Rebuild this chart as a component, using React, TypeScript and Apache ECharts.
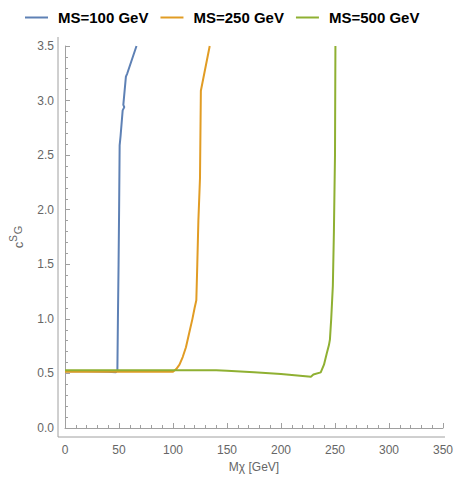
import React, { useEffect, useRef } from "react";
import * as echarts from "echarts";

const seriesNames = ["MS=100 GeV", "MS=250 GeV", "MS=500 GeV"];
const colors = ["#5E81B5", "#E19C24", "#8FB032"];

const ms100: [number, number][] = [
  [0, 0.52], [20, 0.52], [40, 0.515], [47, 0.51], [48.5, 0.53], [49, 1.0],
  [49.6, 1.5], [50.1, 2.0], [50.6, 2.59], [51.5, 2.68], [53.4, 2.91],
  [54.9, 2.94], [54.0, 2.96], [56.4, 3.22], [57.7, 3.25], [66.2, 3.5],
];
const ms250: [number, number][] = [
  [0, 0.515], [50, 0.515], [100, 0.515], [103, 0.54], [106, 0.58],
  [109, 0.65], [112, 0.74], [115, 0.87], [118, 1.0], [120, 1.1],
  [121.6, 1.17], [122.5, 1.5], [123.5, 1.9], [125, 2.29], [125.8, 3.09],
  [134, 3.5],
];
const ms500: [number, number][] = [
  [0, 0.53], [50, 0.53], [100, 0.53], [140, 0.53], [150, 0.525],
  [175, 0.51], [200, 0.495], [227.7, 0.47], [230, 0.49], [236.8, 0.51],
  [239.8, 0.58], [242.3, 0.68], [244.4, 0.76], [245.3, 0.81], [246.5, 1.0],
  [248, 1.3], [249, 1.8], [250, 2.5], [250.4, 3.5],
];

const xTicks = { min: 0, max: 350, interval: 50 };
const yTicks = { min: 0, max: 3.5, interval: 0.5 };

export default function App() {
  const ref = useRef<HTMLDivElement>(null);
  useEffect(() => {
    document.body.style.margin = "0";
    if (!ref.current) return;
    const chart = echarts.init(ref.current, undefined, { renderer: "svg" });
    const axisColor = "#a0a0a0";
    const labelColor = "#666";
    const font = "'Liberation Sans', Arial, sans-serif";
    const data = [ms100, ms250, ms500];
    chart.setOption({
      animation: false,
      textStyle: { fontFamily: font },
      legend: {
        left: 20,
        top: 5,
        width: 440,
        itemWidth: 23,
        itemHeight: 14,
        itemGap: 12,
        icon: "path://M0,6 L23,6 L23,8 L0,8 Z",
        data: seriesNames,
        textStyle: {
          fontSize: 15,
          fontWeight: "bold",
          color: "#000",
          fontFamily: font,
          padding: [0, 0, 0, 5],
        },
      },
      grid: { left: 61, right: 11, top: 46, bottom: 53 },
      xAxis: {
        type: "value",
        min: xTicks.min,
        max: xTicks.max,
        interval: xTicks.interval,
        offset: 9,
        name: "Mχ [GeV]",
        nameLocation: "middle",
        nameGap: 24,
        nameTextStyle: { color: labelColor, fontSize: 12, fontFamily: font },
        axisLine: { show: true, lineStyle: { color: axisColor } },
        axisTick: { show: true, inside: true, length: 5, lineStyle: { color: axisColor } },
        minorTick: { show: true, splitNumber: 5, length: 3, lineStyle: { color: axisColor } },
        axisLabel: { color: labelColor, fontSize: 12, margin: 7, fontFamily: font },
        splitLine: { show: false },
      },
      yAxis: {
        type: "value",
        min: yTicks.min,
        max: yTicks.max,
        interval: yTicks.interval,
        offset: 7,
        name: "{c|c}{s|S}{g|G}",
        nameLocation: "middle",
        nameRotate: 90,
        nameGap: 30,
        nameTextStyle: {
          color: labelColor,
          fontFamily: font,
          rich: {
            c: { fontSize: 13, color: labelColor, lineHeight: 20, verticalAlign: "middle" },
            s: { fontSize: 10, color: labelColor, lineHeight: 20, verticalAlign: "top" },
            g: { fontSize: 11, color: labelColor, lineHeight: 20, verticalAlign: "middle", padding: [0, 0, 0, 1] },
          },
        },
        axisLine: { show: true, lineStyle: { color: axisColor } },
        axisTick: { show: true, inside: true, length: 5, lineStyle: { color: axisColor } },
        minorTick: { show: true, splitNumber: 5, length: 3, lineStyle: { color: axisColor } },
        axisLabel: {
          color: labelColor,
          fontSize: 12,
          margin: 4,
          fontFamily: font,
          formatter: (v: number) => v.toFixed(1),
        },
        splitLine: { show: false },
      },
      series: seriesNames.map((name, i) => ({
        name,
        type: "line",
        data: data[i],
        symbol: "none",
        smooth: false,
        lineStyle: { color: colors[i], width: 2 },
        itemStyle: { color: colors[i] },
      })),
    });
    // extend the axis lines slightly past the data range as in the reference
    const p0 = chart.convertToPixel({ xAxisIndex: 0, yAxisIndex: 0 }, [xTicks.min, yTicks.min]) as number[];
    const p1 = chart.convertToPixel({ xAxisIndex: 0, yAxisIndex: 0 }, [xTicks.max, yTicks.max]) as number[];
    if (p0 && p1) {
      const ax = p0[0] - 7;
      const ay = p0[1] + 9;
      chart.setOption({
        graphic: {
          elements: [
            { type: "line", shape: { x1: ax, y1: ay, x2: p1[0] + 2, y2: ay }, style: { stroke: axisColor, lineWidth: 1 }, silent: true },
            { type: "line", shape: { x1: ax, y1: p1[1] - 9, x2: ax, y2: ay }, style: { stroke: axisColor, lineWidth: 1 }, silent: true },
          ],
        },
      });
    }
    return () => chart.dispose();
  }, []);
  return <div ref={ref} style={{ width: 456, height: 481 }} />;
}
